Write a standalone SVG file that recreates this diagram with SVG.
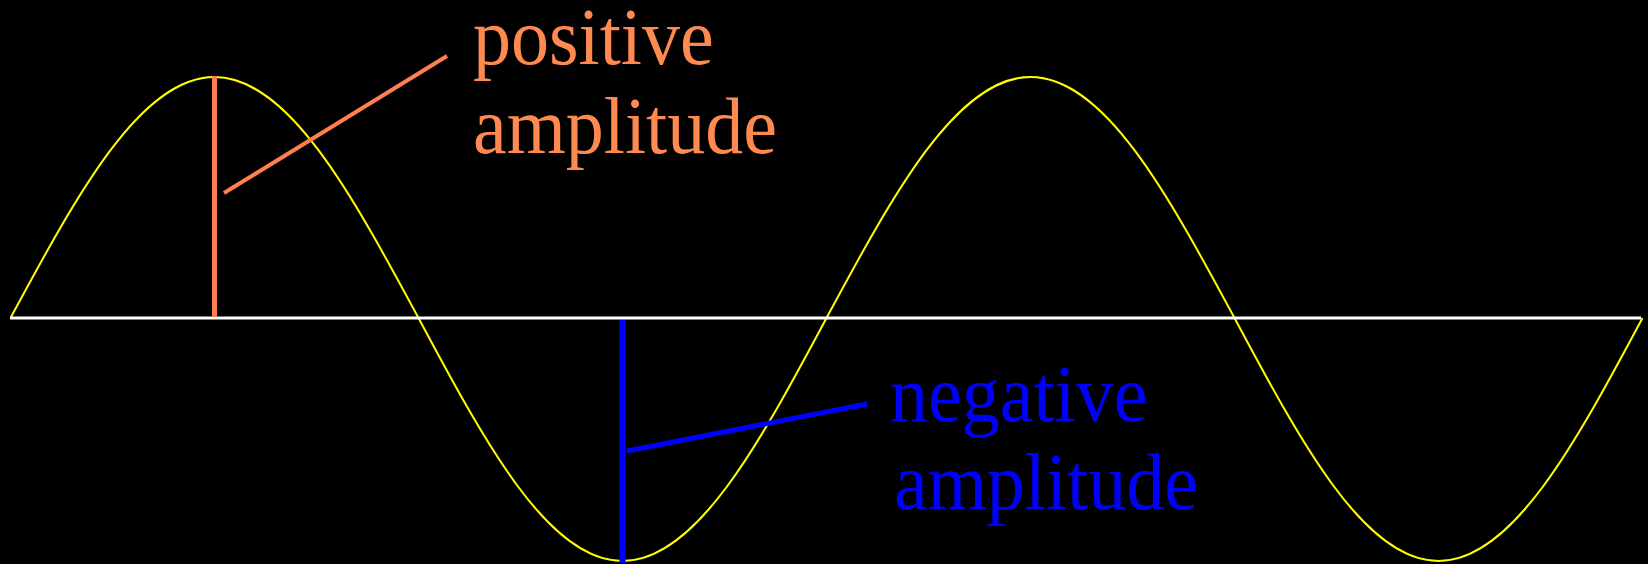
<svg xmlns="http://www.w3.org/2000/svg" width="1648" height="564" viewBox="0 0 1648 564">
<style>
.lbl{font-family:"Liberation Serif","Times New Roman",serif;font-size:76px}
.pos{fill:#FF8A50}
.neg{fill:#0000FF}
</style>
<rect width="1648" height="564" fill="#000"/>
<g id="wave">
<path d="M10.5,318 C77.07,194.5 140.67,77 214.5,77 C288.33,77 351.93,194.5 418.5,318 C485.07,442.6 548.67,561 622.5,561 C696.33,561 759.93,442.6 826.5,318 C893.07,194.5 956.67,77 1030.5,77 C1104.33,77 1167.93,194.5 1234.5,318 C1301.07,442.6 1364.67,561 1438.5,561 C1512.33,561 1575.93,442.6 1642.5,318" fill="none" stroke="#FFFF00" stroke-width="2"/>
</g>
<g id="axis">
<line x1="10" y1="318" x2="1641" y2="318" stroke="#FFFFFF" stroke-width="3"/>
</g>
<g id="connectors">
<line x1="214.5" y1="76" x2="214.5" y2="317" stroke="#FF7F50" stroke-width="5"/>
<line x1="224" y1="193" x2="447" y2="56" stroke="#FF7F50" stroke-width="4"/>
<line x1="622.5" y1="320" x2="622.5" y2="563" stroke="#0000FF" stroke-width="6"/>
<line x1="627" y1="451" x2="867" y2="404" stroke="#0000FF" stroke-width="5"/>
</g>
<g id="positive-label">
<text class="lbl pos" transform="translate(473,64) scale(1,1.06)">positive</text>
<text class="lbl pos" transform="translate(473,153) scale(1,1.06)">amplitude</text>
</g>
<g id="negative-label">
<text class="lbl neg" transform="translate(890,421) scale(1,1.06)">negative</text>
<text class="lbl neg" transform="translate(894,509) scale(1,1.06)">amplitude</text>
</g>
</svg>
